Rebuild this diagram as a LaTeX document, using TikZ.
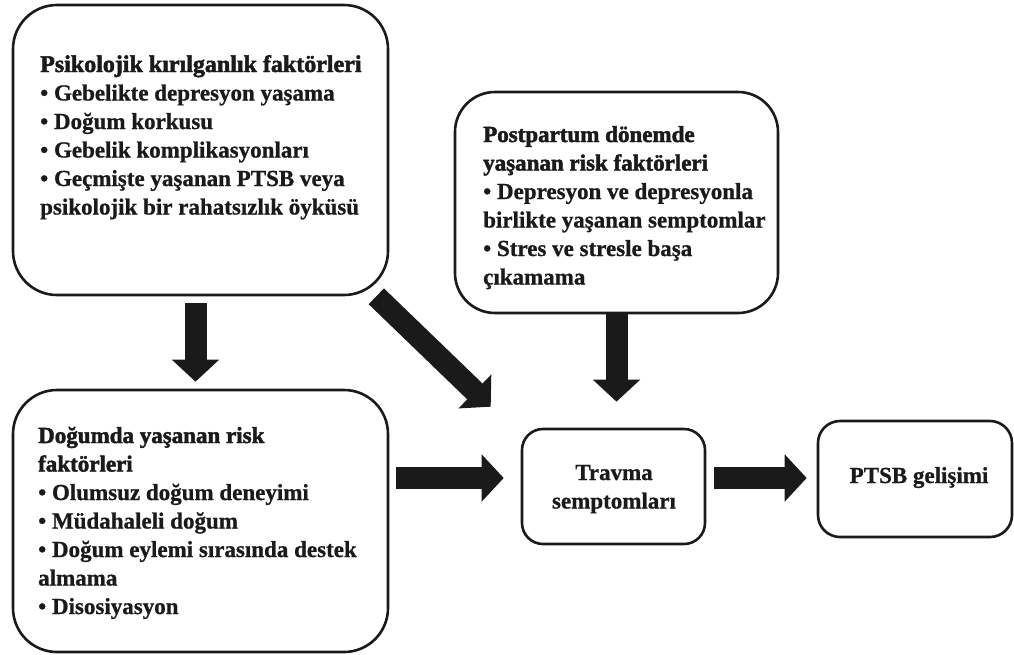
\documentclass[tikz,border=0pt]{standalone}
\usepackage{fontspec}
\setmainfont[BoldFeatures={FakeBold=0.8}]{Liberation Serif}
\newfontfamily\titlefont[BoldFeatures={FakeBold=2}]{Liberation Serif}
\usetikzlibrary{arrows.meta,calc}
\definecolor{ink}{HTML}{1A1A1A}
\newcommand{\bodyfs}{\fontsize{23pt}{28.5pt}\selectfont\bfseries}
\newcommand{\ttl}[1]{{\titlefont\bfseries #1}}
\tikzset{
  box/.style={draw=ink, line width=2.6pt, fill=white, inner sep=0pt},
  txt/.style={anchor=base west, inner sep=0pt, text=ink},
  ctxt/.style={anchor=base, inner sep=0pt, text=ink},
  bigarrow/.style={draw=ink, line width=22pt, -{Triangle[length=22pt,width=46pt]}, ink}
}
\begin{document}
\begin{tikzpicture}[x=1pt,y=-1pt]
\useasboundingbox[fill=white] (0,0) rectangle (1014,654);
% boxes
\node[box, minimum width=375pt, minimum height=290pt, rounded corners=44pt] (b1) at (200.5,150) {};
\node[box, minimum width=323pt, minimum height=221pt, rounded corners=40pt] (b2) at (616.5,202.5) {};
\node[box, minimum width=375pt, minimum height=262pt, rounded corners=44pt] (b3) at (200.5,521) {};
\node[box, minimum width=183pt, minimum height=115pt, rounded corners=21pt] (b4) at (613.5,486.5) {};
\node[box, minimum width=194pt, minimum height=116pt, rounded corners=22pt] (b5) at (915,479) {};
% texts
\node[txt] (t1) at (40,72) {\parbox[t]{360pt}{\bodyfs\raggedright
  {\fontsize{24pt}{28.5pt}\selectfont\ttl{Psikolojik kırılganlık faktörleri}}\\
  • Gebelikte depresyon yaşama\\
  • Doğum korkusu\\
  • Gebelik komplikasyonları\\
  • Geçmişte yaşanan PTSB veya\\
  psikolojik bir rahatsızlık öyküsü}};
\node[txt] (t2) at (483,142) {\parbox[t]{300pt}{\bodyfs\raggedright
  \ttl{Postpartum dönemde}\\
  \ttl{yaşanan risk faktörleri}\\
  • Depresyon ve depresyonla\\
  birlikte yaşanan semptomlar\\
  • Stres ve stresle başa\\
  çıkamama}};
\node[txt] (t3) at (38,443) {\parbox[t]{360pt}{\bodyfs\raggedright
  \ttl{Doğumda yaşanan risk}\\
  \ttl{faktörleri}\\
  • Olumsuz doğum deneyimi\\
  • Müdahaleli doğum\\
  • Doğum eylemi sırasında destek\\
  almama\\
  • Disosiyasyon}};
\node[ctxt] (t4) at (614,480) {\parbox[t]{180pt}{\bodyfs\centering Travma\\ semptomları}};
\node[ctxt] (t5) at (919,483) {\bodyfs PTSB gelişimi};
% arrow helper coordinate
\coordinate (ay) at (0,478);
% arrows
\draw[bigarrow] ($(b1.south)+(-5,7)$) -- ($(b3.north)+(-5,-7)$);
\draw[bigarrow] ($(b1.south east)+(-13,0)$) -- ($(b4.north west)+(-30,-21)$);
\draw[bigarrow] (b2.south) -- ($(b2.south |- b4.north)+(0,-26)$);
\draw[bigarrow] ($(b3.east |- ay)+(7,0)$) -- ($(b4.west |- ay)+(-17,0)$);
\draw[bigarrow] ($(b4.east |- ay)+(8,0)$) -- ($(b5.west |- ay)+(-10,0)$);
\end{tikzpicture}
\end{document}
